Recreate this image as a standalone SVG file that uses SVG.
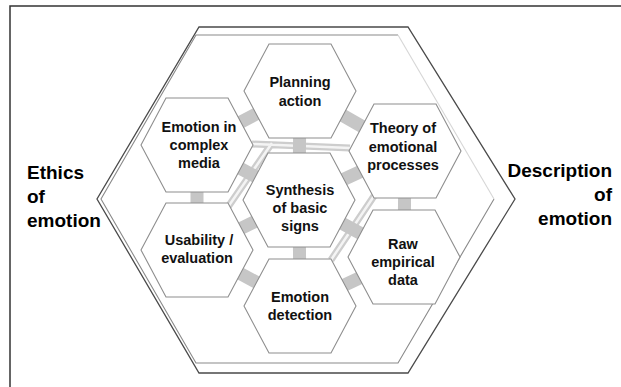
<svg xmlns="http://www.w3.org/2000/svg" width="621" height="387" viewBox="0 0 621 387">
<style>
.frame{fill:none;stroke:#333;stroke-width:1.5}
.outer{fill:#fff;stroke:#4a4a4a;stroke-width:1.3;stroke-linejoin:miter}
.inner{fill:none;stroke:#8a8a8a;stroke-width:1.1}
.innerlight{fill:none;stroke:#d6d6d6;stroke-width:1.1}
.hex{fill:#fff;stroke:#8e8e8e;stroke-width:1.1}
.pipe{fill:none;stroke:#cdcdcd;stroke-width:7;stroke-linecap:butt}
.pipein{fill:none;stroke:#f4f4f4;stroke-width:2.5}
.bar{stroke:#c6c6c6;stroke-width:13}
.t{font-family:"Liberation Sans",Arial,sans-serif;font-weight:bold;font-size:14.5px;text-anchor:middle;fill:#111}
.big{font-family:"Liberation Sans",Arial,sans-serif;font-weight:bold;font-size:19px;fill:#000}
</style>
<defs>
<polygon id="hx" points="-56,0 -31,-47 31,-47 56,0 31,47 -31,47"/>
</defs>
<rect width="621" height="387" fill="#fff"/>
<path class="frame" d="M10,387 V6 H621"/>
<g id="frame-hexagon">
<polygon class="outer" points="199,27 408,27 515,199 408,373 199,373 97,199"/>
<polyline class="inner" points="398,35 196,35 101,199 196,363 398,363 494,199"/>
<line class="innerlight" x1="494" y1="199" x2="398" y2="35"/>
</g>
<g id="connectors">
<path class="pipe" d="M252,144 L350,148 M272,143 L228,207 M374,196 L331,260"/>
<path class="pipein" d="M252,144 L350,148 M272,143 L228,207 M374,196 L331,260"/>
<line class="bar" x1="300" y1="91" x2="197" y2="145"/>
<line class="bar" x1="300" y1="91" x2="405" y2="151"/>
<line class="bar" x1="300" y1="91" x2="299" y2="200"/>
<line class="bar" x1="197" y1="145" x2="299" y2="200"/>
<line class="bar" x1="405" y1="151" x2="299" y2="200"/>
<line class="bar" x1="197" y1="145" x2="197" y2="250"/>
<line class="bar" x1="405" y1="151" x2="404" y2="257"/>
<line class="bar" x1="197" y1="250" x2="299" y2="200"/>
<line class="bar" x1="404" y1="257" x2="299" y2="200"/>
<line class="bar" x1="299" y1="200" x2="300" y2="306"/>
<line class="bar" x1="197" y1="250" x2="300" y2="306"/>
<line class="bar" x1="404" y1="257" x2="300" y2="306"/>
</g>
<g id="planning">
<use href="#hx" class="hex" transform="translate(300,91)"/>
<text class="t" x="300" y="87">Planning</text>
<text class="t" x="300" y="106">action</text>
</g>
<g id="media">
<use href="#hx" class="hex" transform="translate(197,145)"/>
<text class="t" x="199" y="132">Emotion in</text>
<text class="t" x="199" y="150">complex</text>
<text class="t" x="199" y="168">media</text>
</g>
<g id="theory">
<use href="#hx" class="hex" transform="translate(405,151)"/>
<text class="t" x="403" y="133">Theory of</text>
<text class="t" x="403" y="152">emotional</text>
<text class="t" x="403" y="170">processes</text>
</g>
<g id="synthesis">
<use href="#hx" class="hex" transform="translate(299,200)"/>
<text class="t" x="300" y="195">Synthesis</text>
<text class="t" x="300" y="213">of basic</text>
<text class="t" x="300" y="231">signs</text>
</g>
<g id="usability">
<use href="#hx" class="hex" transform="translate(197,250)"/>
<text class="t" x="199" y="245">Usability /</text>
<text class="t" x="197" y="263">evaluation</text>
</g>
<g id="raw">
<use href="#hx" class="hex" transform="translate(404,257)"/>
<text class="t" x="403" y="249">Raw</text>
<text class="t" x="403" y="267">empirical</text>
<text class="t" x="403" y="285">data</text>
</g>
<g id="detection">
<use href="#hx" class="hex" transform="translate(300,306)"/>
<text class="t" x="300" y="302">Emotion</text>
<text class="t" x="300" y="320">detection</text>
</g>
<g id="ethics">
<text class="big" x="27" y="179">Ethics</text>
<text class="big" x="27" y="203">of</text>
<text class="big" x="27" y="227">emotion</text>
</g>
<g id="description">
<text class="big" x="612" y="177" text-anchor="end">Description</text>
<text class="big" x="612" y="201" text-anchor="end">of</text>
<text class="big" x="612" y="225" text-anchor="end">emotion</text>
</g>
</svg>
